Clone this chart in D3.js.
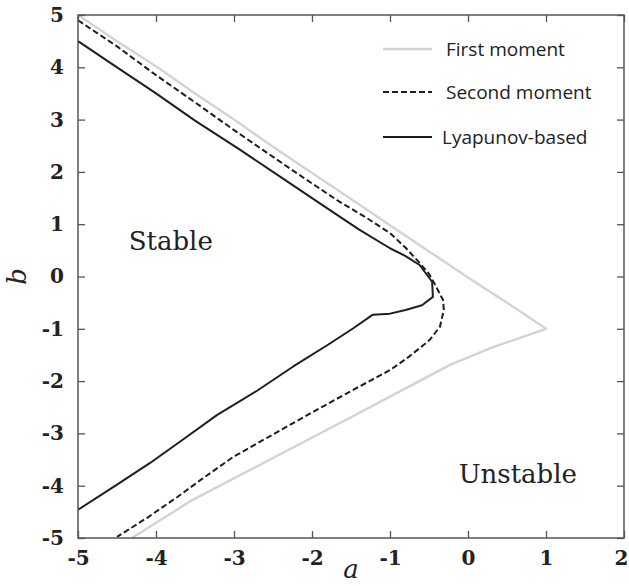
<!DOCTYPE html>
<html>
<head>
<meta charset="utf-8">
<script src="https://cdn.jsdelivr.net/npm/d3@7/dist/d3.min.js"></script>
<style>
  body { margin: 0; background: #fff; }
  .tick text { font-family: "DejaVu Serif", serif; }
</style>
</head>
<body>
<script>
// stability boundaries as [a, b] pairs
var firstMoment = [
  [-5, 5.0], [-4.5, 4.5], [-4, 4.02], [-3.5, 3.5], [-3, 3.0], [-2.5, 2.48],
  [-2, 1.98], [-1.5, 1.48], [-1, 0.98], [-0.5, 0.48], [0, -0.02], [0.5, -0.5], [1, -1],
  [0.32, -1.35], [-0.23, -1.69], [-0.8, -2.14], [-1.5, -2.69], [-2.5, -3.47],
  [-3.53, -4.27], [-4.31, -5]
];
var secondMoment = [
  [-5, 4.9], [-4.5, 4.4], [-4, 3.85], [-3.5, 3.33], [-3, 2.8], [-2.63, 2.42],
  [-2.2, 1.98], [-1.68, 1.46], [-1.3, 1.12], [-1.0, 0.83], [-0.8, 0.55], [-0.62, 0.26],
  [-0.5, 0.05], [-0.42, -0.16], [-0.32, -0.45], [-0.31, -0.64], [-0.36, -0.96],
  [-0.49, -1.21], [-0.62, -1.37], [-0.78, -1.56], [-1.0, -1.79], [-1.45, -2.15],
  [-1.94, -2.55], [-2.5, -3.02], [-3.01, -3.45], [-3.4, -3.86], [-3.73, -4.22],
  [-4.1, -4.6], [-4.5, -4.98]
];
var lyapunov = [
  [-5, 4.5], [-4.5, 4.0], [-4, 3.5], [-3.5, 2.98], [-2.92, 2.42], [-2.4, 1.9],
  [-1.77, 1.27], [-1.4, 0.9], [-1.0, 0.54], [-0.8, 0.39], [-0.62, 0.22],
  [-0.46, -0.1], [-0.45, -0.39], [-0.59, -0.55], [-0.8, -0.64], [-1.0, -0.71],
  [-1.22, -0.73], [-1.47, -0.99], [-1.8, -1.31], [-2.24, -1.72], [-2.7, -2.18],
  [-3.22, -2.65], [-3.6, -3.06], [-4.08, -3.57], [-4.5, -3.98], [-5, -4.46]
];

var xTicks = [-5, -4, -3, -2, -1, 0, 1, 2];
var yTicks = [-5, -4, -3, -2, -1, 0, 1, 2, 3, 4, 5];
var legendLabels = ["First moment", "Second moment", "Lyapunov-based"];
var regionLabels = [
  {text: "Stable", a: -4.35, b: 0.5},
  {text: "Unstable", a: -0.12, b: -3.95}
];

var margin = {top: 15, right: 5, bottom: 48, left: 78},
    width = 624 - margin.left,
    height = 538 - margin.top;

var x = d3.scaleLinear().domain([-5, 2]).range([0, width]);
var y = d3.scaleLinear().domain([-5, 5]).range([height, 0]);

var svg = d3.select("body").append("svg")
    .attr("width", 629)
    .attr("height", 586)
  .append("g")
    .attr("transform", "translate(" + margin.left + "," + margin.top + ")");

var line = d3.line()
    .x(function(d) { return x(d[0]); })
    .y(function(d) { return y(d[1]); });

// curves
svg.append("path")
    .datum(firstMoment)
    .attr("d", line)
    .attr("fill", "none")
    .attr("stroke", "#d3d3d3")
    .attr("stroke-width", 2.4)
    .attr("stroke-linejoin", "round");

svg.append("path")
    .datum(secondMoment)
    .attr("d", line)
    .attr("fill", "none")
    .attr("stroke", "#1e1e1e")
    .attr("stroke-width", 2)
    .attr("stroke-dasharray", "6,3");

svg.append("path")
    .datum(lyapunov)
    .attr("d", line)
    .attr("fill", "none")
    .attr("stroke", "#1e1e1e")
    .attr("stroke-width", 2)
    .attr("stroke-linejoin", "round");

// axes: ticks point inward on all four sides
function fmt(d) { return String(d); }

function styleAxis(g) {
  g.select(".domain").remove();
  g.selectAll(".tick line").attr("stroke", "#555").attr("stroke-width", 1.3);
  g.selectAll(".tick text").attr("fill", "#222")
    .style("font-size", "20px").style("font-weight", "bold");
}

var xAxis = svg.append("g")
    .attr("transform", "translate(0," + height + ")")
    .call(d3.axisBottom(x).tickValues(xTicks).tickSizeInner(-7).tickPadding(13).tickFormat(fmt))
    .call(styleAxis);
// last label sits against the window edge
xAxis.selectAll(".tick text").filter(function(d) { return d == 2; }).attr("dx", "-3");

svg.append("g")
    .call(d3.axisLeft(y).tickValues(yTicks).tickSizeInner(-7).tickPadding(14).tickFormat(fmt))
    .call(styleAxis);

svg.append("g")
    .call(d3.axisTop(x).tickValues(xTicks).tickSizeInner(-7).tickFormat(""))
    .call(styleAxis);

svg.append("g")
    .attr("transform", "translate(" + width + ",0)")
    .call(d3.axisRight(y).tickValues(yTicks).tickSizeInner(-7).tickFormat(""))
    .call(styleAxis);

svg.append("rect")
    .attr("width", width)
    .attr("height", height)
    .attr("fill", "none")
    .attr("stroke", "#555")
    .attr("stroke-width", 1.5);

// axis titles
svg.append("text")
    .attr("x", width / 2)
    .attr("y", height + 40)
    .attr("text-anchor", "middle")
    .style("font-family", "DejaVu Serif, serif")
    .style("font-style", "italic")
    .style("font-size", "26px")
    .attr("fill", "#222")
    .text("a");

svg.append("text")
    .attr("transform", "translate(-52," + (height / 2) + ") rotate(-90)")
    .attr("text-anchor", "middle")
    .style("font-family", "DejaVu Serif, serif")
    .style("font-style", "italic")
    .style("font-size", "26px")
    .attr("fill", "#222")
    .text("b");

// region labels
svg.selectAll(".region")
    .data(regionLabels)
  .enter().append("text")
    .attr("class", "region")
    .attr("x", function(d) { return x(d.a); })
    .attr("y", function(d) { return y(d.b); })
    .style("font-family", "DejaVu Serif, serif")
    .style("font-size", "26px")
    .attr("fill", "#222")
    .text(function(d) { return d.text; });

// legend
var legend = svg.append("g").attr("transform", "translate(305,34)");
var legendStyles = [
  {stroke: "#d3d3d3", dash: null, w: 2.4},
  {stroke: "#1e1e1e", dash: "6,3", w: 2},
  {stroke: "#1e1e1e", dash: null, w: 2}
];
legendLabels.forEach(function(t, i) {
  var row = legend.append("g").attr("transform", "translate(0," + [0, 43, 88][i] + ")");
  row.append("line")
      .attr("x1", 0).attr("x2", 49)
      .attr("stroke", legendStyles[i].stroke)
      .attr("stroke-width", legendStyles[i].w)
      .attr("stroke-dasharray", legendStyles[i].dash);
  row.append("text")
      .attr("x", i == 2 ? 59 : 63)
      .attr("y", 7)
      .style("font-family", "Open Sans, sans-serif")
      .style("font-size", "19px")
      .attr("fill", "#222")
      .text(t);
});
</script>
</body>
</html>
